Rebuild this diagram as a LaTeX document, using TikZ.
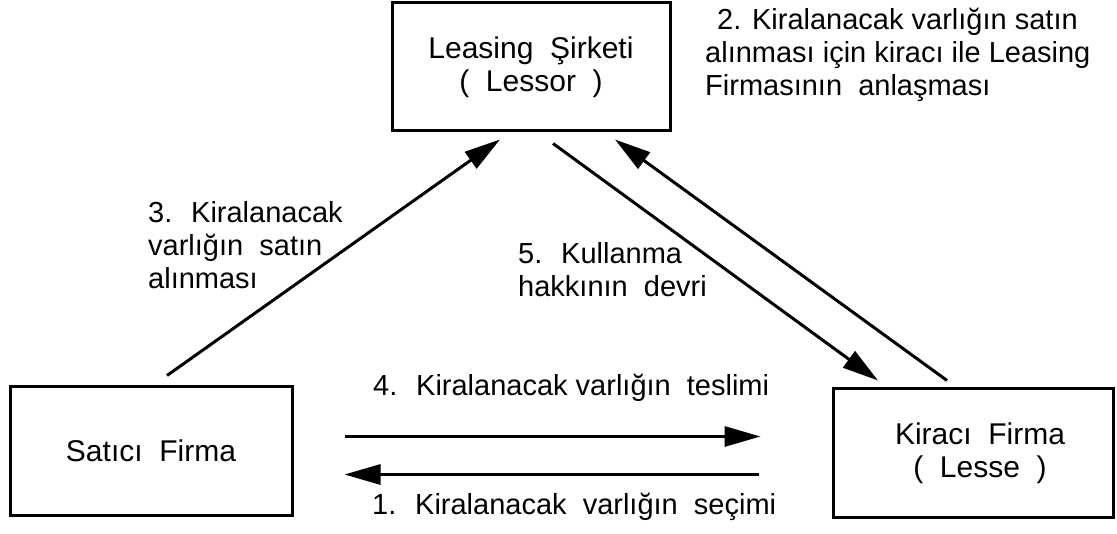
\documentclass[tikz,border=0pt]{standalone}
\usepackage{fontspec}
\setmainfont{Liberation Sans}
\usetikzlibrary{arrows.meta,calc}
\begin{document}
\begin{tikzpicture}[x=1pt,y=-1pt,
  box/.style={draw,line width=3pt,inner sep=0pt,align=center,
    font=\fontsize{30}{33}\selectfont},
  arr/.style={line width=3pt,-{Triangle[length=36pt,width=20pt]}},
  lbl/.style={inner sep=0pt,anchor=north west,align=left,
    font=\fontsize{29}{33}\selectfont}]
\useasboundingbox (0,0) rectangle (1117,534);
\node[box,minimum width=278pt,minimum height=128pt] (lessor) at (531,67)
  {Leasing~ Şirketi\\(~ Lessor~ )};
\node[box,minimum width=282pt,minimum height=128pt] (satici) at (151,451)
  {Satıcı~ Firma};
\node[box,minimum width=280pt,minimum height=128pt] (kiraci) at (973,453)
  {\hspace*{14pt}Kiracı~ Firma\\\hspace*{14pt}(~ Lesse~ )};
% connectors
\draw[arr] ($(satici.north)+(16,-10)$) -- ($(lessor.south)+(-31,7)$);
\draw[arr] ($(lessor.south)+(22,11)$) -- ($(kiraci.north)+(-95,-7)$);
\draw[arr] ($(kiraci.north)+(-26,-7)$) -- ($(lessor.south)+(84,7)$);
\draw[arr] ($(satici.east)+(51,-14.5)$) -- ($(kiraci.west)+(-71,-16.5)$);
\draw[arr] ($(kiraci.west)+(-73,21.5)$) -- ($(satici.east)+(51,23.5)$);
% labels
\node[lbl] (l2) at (705,7.5) {\hspace*{12pt}2. Kiralanacak varlığın satın\\alınması için kiracı ile Leasing\\Firmasının~ anlaşması};
\node[lbl] (l3) at (148,201.5) {3.~ Kiralanacak\\varlığın~ satın\\alınması};
\node[lbl] (l5) at (518,242.5) {5.~ Kullanma\\hakkının~ devri};
\node[lbl] (l4) at (373,374) {4.~ Kiralanacak varlığın~ teslimi};
\node[lbl] (l1) at (372,492.5) {1.~ Kiralanacak~ varlığın~ seçimi};
\end{tikzpicture}
\end{document}
